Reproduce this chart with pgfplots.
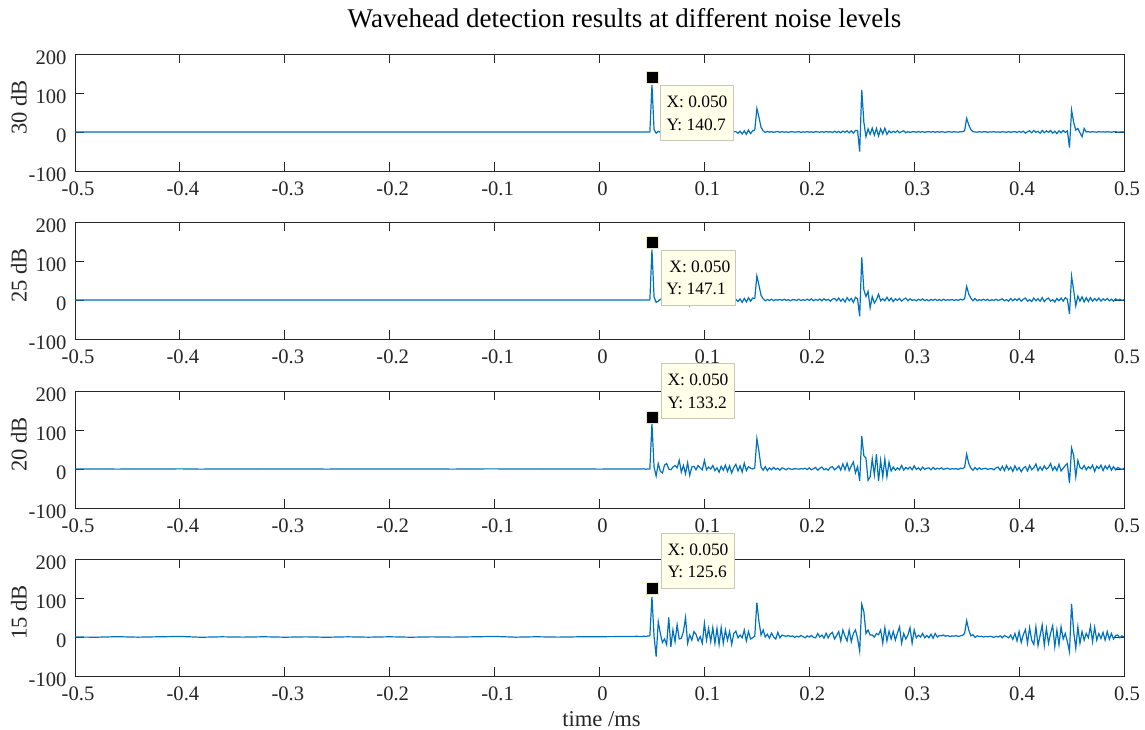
\documentclass[border=0pt]{standalone}
\usepackage{fontspec}
\setmainfont{Liberation Serif}
\usepackage{pgfplots}
\usepackage{pgfplotstable}
\pgfplotsset{compat=1.18}

\definecolor{matblue}{rgb}{0,0.447,0.741}
\definecolor{axgray}{rgb}{0.15,0.15,0.15}
\definecolor{tipfill}{RGB}{255,255,234}
\definecolor{tipborder}{RGB}{200,200,185}
\definecolor{tipedge}{RGB}{235,230,185}

% time (ms) and detector output at 30, 25, 20 and 15 dB
\pgfplotstableread{
x a b c d
-0.50 0 0 0 0
-0.48 0 0 0.3 -0.5
-0.46 0 0 -0.3 0.8
-0.44 0 0 0.2 -0.4
-0.42 0 0 -0.2 0.6
-0.40 0 0 0.4 1.5
-0.38 0 0 -0.3 -0.6
-0.36 0 0 0.2 0.5
-0.34 0 0 -0.2 -0.3
-0.32 0 0 0.3 0.6
-0.30 0 0 -0.2 -0.5
-0.28 0 0 0.2 0.4
-0.26 0 0 -0.3 -0.6
-0.24 0 0 0.2 0.5
-0.22 0 0 -0.2 -0.4
-0.20 0 0 0.3 0.6
-0.18 0 0 -0.2 -0.5
-0.16 0 0 0.2 0.4
-0.14 0 0 -0.3 -0.3
-0.12 0 0 0.2 0.5
-0.10 0 0 0.4 1.5
-0.08 0 0 -0.2 -0.4
-0.06 0 0 0.3 0.6
-0.04 0 0 -0.2 -0.3
-0.02 0 0 0.2 0.5
0.00 0 0 -0.3 0.8
0.02 0 0 0.2 1.2
0.03 0 0 -0.2 1.5
0.036 0 0 0.3 1.8
0.040 0 0 0 1
0.042 0.3 0 0.5 2
0.044 0 0.3 -0.5 1.5
0.046 0.2 0 0.4 2.5
0.048 0 0.2 0 3
0.050 121 129 116 103
0.052 6 8 5 2
0.054 -3 -6 -18 -50
0.056 2 -3 14 39
0.058 -1 2 -6 9
0.060 1 -2 -10 -14
0.062 -1 1 10 -5
0.064 0.5 -1 14 -20
0.066 -1.5 2 0 50
0.068 1 -1.5 -2 -25
0.070 -0.5 1 5 18
0.072 1.5 -1 9 -12
0.074 -1 2 3 31
0.076 0.5 -1 22 -5
0.078 -1 1 -8 -3
0.080 1 -2 9 14
0.082 -1.5 1 -12 50
0.084 2 0.5 16 -16
0.086 -1 -14 -16 5
0.088 0.5 2 5 -8
0.090 -2 -1 7 14
0.092 1 1 -2 7
0.094 -0.5 -2 9 -10
0.096 1.5 1.5 3 1
0.098 -1 -1 -2 -16
0.100 1 2 22 35
0.102 -1 -1 -2 -8
0.104 2 1 5 22
0.106 -1.5 -2 0 -12
0.108 1 1.5 9 24
0.110 -1 -1 -4 -16
0.112 0.5 2 3 22
0.114 -2 -1 -8 -19
0.116 1.5 1 7 24
0.118 -1 -2 -3 -16
0.120 2 1 10 18
0.122 -1 -1 -6 -8
0.124 1.5 2 8 14
0.126 -2 -1.5 -10 -19
0.128 1 1 4 9
0.130 1 2 12 15
0.132 -3 -4 -5 -2
0.134 2 3 8 5
0.136 -5 -6 -8 -2
0.138 3 4 15 18
0.140 -6 -5 -4 -10
0.142 5 6 6 14
0.144 -4 -3 2 -5
0.146 3 5 0 -2
0.148 5 4 3 2
0.150 60 62 78 88
0.152 38 38 45 40
0.154 12 12 5 5
0.156 3 3 -3 18
0.158 -1 -2 6 0
0.160 1.5 1.5 -4 7
0.162 -0.5 -1 3 -3
0.164 1 2 -2 10
0.166 -1 -1.5 4 0
0.168 0.5 1 -1 -5
0.170 1.5 -0.5 2 12
0.172 -1 1.5 -3 -2
0.174 1 -1 3 5
0.176 -0.5 2 1 3
0.178 0.5 -1 -2 2
0.180 -1 1 2 4
0.182 0.5 -2 0 1
0.184 1 1 -1 3
0.186 -0.5 0.5 1 -1
0.188 0 -1 0.5 2
0.190 1 2 -0.5 0
0.192 -1 -1.5 1 4
0.194 0.5 1 0 1
0.196 -0.5 -1 2 -2
0.198 1 2 -1.5 3
0.200 -0.5 -1 3 0
0.202 0.5 3 -2 4
0.204 -1 -2 1 -1
0.206 1 1.5 4 -2
0.208 0 -1 -3 9
0.210 -0.5 2.5 2 0
0.212 1 -2 5 5
0.214 -1 3 -2 -3
0.216 1.5 -1 1 10
0.218 -0.5 2 -3 -2
0.220 1 -3 4 8
0.222 -1.5 2 6 12
0.224 2 4 -2 -5
0.226 -1 -2 2 4
0.228 1.5 5 8 14
0.230 -2 -3 -3 -10
0.232 2.5 3 13 18
0.234 -1 -5 -2 2
0.236 3 6 15 -10
0.238 -2 -2 -4 18
0.240 3 4 8 -12
0.242 -3 -6 18 9
0.244 4 7 -10 18
0.246 4 3 6 -4
0.248 -50 -42 -31 -36
0.250 108 109 84 84
0.252 25 26 34 65
0.254 -12 9 28 9
0.256 8 22 -29 18
0.258 -6 -20 -20 5
0.260 10 9 26 5
0.262 -8 -8 -15 0
0.264 9 1 38 9
0.266 -10 15 -31 6
0.268 8 -2 22 18
0.270 -5 3 -20 -16
0.272 10 -2 26 24
0.274 -6 7 -20 -10
0.276 3 -2 18 15
0.278 -2 5 -5 -5
0.280 2 -4 5 14
0.282 -1 3 -3 -8
0.284 3 -1 3 10
0.286 -2 4 -2 26
0.288 1 -3 9 -16
0.290 3 2 -3 9
0.292 -2 5 4 -5
0.294 1 -2 0 5
0.296 -1 3 5 24
0.298 0.5 -1 -2 -16
0.300 1 1 8 18
0.302 -1 -2 -1 -2
0.304 1.5 2 3 5
0.306 -0.5 -1 -3 0
0.308 1 3 5 9
0.310 -1 -1.5 -1 -2
0.312 0.5 1 2 4
0.314 1 -2 3 -2
0.316 -0.5 1.5 -2 7
0.318 1.5 -1 4 -3
0.320 -1 2 -1 9
0.322 1 -1 2 0
0.324 -0.5 1 0 4
0.326 1 -1.5 3 3
0.328 0 2 -1 5
0.330 -1 -1 1 2
0.332 1 1 2 4
0.334 0.5 -0.5 -1 1
0.336 -0.5 1.5 1 3
0.338 1 -1 0 2
0.340 0 1 1 4
0.342 -0.5 -1 -1 1
0.344 1 2 2 3
0.346 0.5 0 1 4
0.348 3 3 4 9
0.350 35 35 38 42
0.352 18 15 14 18
0.354 6 5 2 3
0.356 1 -2 -3 6
0.358 0 4 4 -1
0.360 -0.5 -2 -2 3
0.362 1 1 3 1
0.364 -0.5 -1 -1 2
0.366 0.5 2 1 0
0.368 1 -1 2 1.5
0.370 -1 1.5 -1 0.5
0.372 0.5 -2 0.5 2
0.374 0 1 1 1
0.376 1 -1 -2 -1
0.378 -0.5 2 3 2
0.380 0.5 -1.5 5 0
0.382 -1 1 -3 3
0.384 1 3 7 -2
0.386 0 -2 -4 4
0.388 -0.5 1 9 1
0.390 1 -3 -2 -2
0.392 -1 4 5 5
0.394 0.5 -2 -6 -6
0.396 1 3 8 9
0.398 -1 -1 -3 -10
0.400 1.5 4 4 14
0.402 -1 -3 -7 -14
0.404 2 2 2 6
0.406 -3 5 6 19
0.408 1 -3 -5 -16
0.410 3 1 9 24
0.412 -2 -4 -2 -8
0.414 4 5 3 -19
0.416 -1 -2 13 26
0.418 2 3 -4 -22
0.420 -3 -3 5 4
0.422 4 6 -3 31
0.424 -2 -4 8 -22
0.426 3 2 0 22
0.428 -1 5 4 -16
0.430 4 -3 14 10
0.432 -3 1 -3 29
0.434 2 -5 6 -25
0.436 -4 4 -4 18
0.438 3 -2 12 -20
0.440 -2 5 -5 26
0.442 4 -3 2 -5
0.444 -1 6 9 9
0.446 3 2 14 -12
0.448 -40 -36 -36 -38
0.450 56 61 54 85
0.452 25 25 35 14
0.454 5 -15 -20 -29
0.456 9 10 22 26
0.458 -2 -3 4 -16
0.460 -12 8 0 14
0.462 9 -5 9 -8
0.464 0 6 -2 9
0.466 1 -4 6 -2
0.468 -0.5 6 1 28
0.470 1 -3 10 -12
0.472 0 4 -6 25
0.474 -0.5 -2 7 -8
0.476 1 5 1 9
0.478 0 -3 10 -4
0.480 0.5 3 -4 12
0.482 -0.5 -1 8 -8
0.484 1 4 0 14
0.486 0 -2 9 -6
0.488 -0.5 2 -3 9
0.490 0.5 -3 6 -5
0.492 1 3 -2 4
0.494 -0.5 -1 4 5
0.496 0 2 1 -2
0.498 0.5 -1 -1 3
0.500 0 1 2 0
}\waves

\pgfplotsset{
  wavepanel/.style={
    scale only axis, width=524.5pt, height=58.5pt,
    anchor=north west,
    xmin=-0.5, xmax=0.5, ymin=-100, ymax=200,
    xtick={-0.5,-0.4,-0.3,-0.2,-0.1,0,0.1,0.2,0.3,0.4,0.5},
    xticklabels={-0.5,-0.4,-0.3,-0.2,-0.1,0,0.1,0.2,0.3,0.4,0.5},
    ytick={-100,0,100,200},
    yticklabels={-100,0,100,200},
    tick align=inside,
    major tick length=4.7pt,
    tick style={axgray, line width=0.5pt},
    axis line style={axgray, line width=0.5pt},
    xticklabel style={font=\fontsize{10.3}{12}\selectfont, text=axgray, yshift=-2.1pt, xshift=1.5pt},
    yticklabel style={font=\fontsize{10.3}{12}\selectfont, text=axgray, yshift=-1.75pt, xshift=-0.75pt},
    every axis y label/.style={at={(axis description cs:0,0.5)}, xshift=-24.2pt, yshift=2.5pt, rotate=90, anchor=base, font=\fontsize{11.3}{13}\selectfont, text=axgray},
    every axis x label/.style={at={(axis description cs:0.5,0)}, yshift=-25pt, xshift=1pt, anchor=base, font=\fontsize{11.3}{13}\selectfont, text=axgray},
    every axis title/.style={at={(axis description cs:0.5,1)}, xshift=12.5pt, yshift=13.25pt, anchor=base, font=\fontsize{13.5}{16}\selectfont},
    clip=false,
  },
  wave/.style={matblue, line width=0.6pt},
  tipmark/.style={only marks, mark=square*, mark size=3pt, mark options={fill=black, draw=tipedge, line width=0.4pt}},
}
\tikzset{
  tip/.style={draw=tipborder, fill=tipfill, line width=0.5pt, font=\fontsize{8.7}{11.3}\selectfont, align=left, minimum width=36.5pt, minimum height=27.5pt, inner xsep=2.5pt, inner ysep=2pt},
}

\begin{document}
\begin{tikzpicture}
\begin{axis}[wavepanel, at={(37.5pt,-27pt)}, ylabel={30 dB},
  title={Wavehead detection results at different noise levels}]
  \addplot[wave] table[x=x, y=a] {\waves};
  \addplot[tipmark] coordinates {(0.05,140.7)};
  \node[tip, anchor=north west, xshift=4pt, yshift=-4pt] at (axis cs:0.05,140.7) {X: 0.050\\Y: 140.7};
\end{axis}
\begin{axis}[wavepanel, at={(37.5pt,-111pt)}, ylabel={25 dB}]
  \addplot[wave] table[x=x, y=b] {\waves};
  \addplot[tipmark] coordinates {(0.05,147.1)};
  \node[tip, anchor=north west, xshift=4.5pt, yshift=-3.5pt] at (axis cs:0.05,147.1) {\hspace*{1.5pt}X: 0.050\\Y: 147.1};
\end{axis}
\begin{axis}[wavepanel, at={(37.5pt,-195.5pt)}, ylabel={20 dB}]
  \addplot[wave] table[x=x, y=c] {\waves};
  \addplot[tipmark] coordinates {(0.05,133.2)};
  \node[tip, anchor=south west, xshift=4.5pt, yshift=-1pt] at (axis cs:0.05,133.2) {X: 0.050\\Y: 133.2};
\end{axis}
\begin{axis}[wavepanel, at={(37.5pt,-279.5pt)}, ylabel={15 dB}, xlabel={time /ms}]
  \addplot[wave] table[x=x, y=d] {\waves};
  \addplot[tipmark] coordinates {(0.05,125.6)};
  \node[tip, anchor=south west, xshift=4.5pt, yshift=-0.5pt] at (axis cs:0.05,125.6) {X: 0.050\\Y: 125.6};
\end{axis}
\pgfresetboundingbox
\useasboundingbox (0,0) rectangle (572.5pt,-364.5pt);
\end{tikzpicture}
\end{document}
